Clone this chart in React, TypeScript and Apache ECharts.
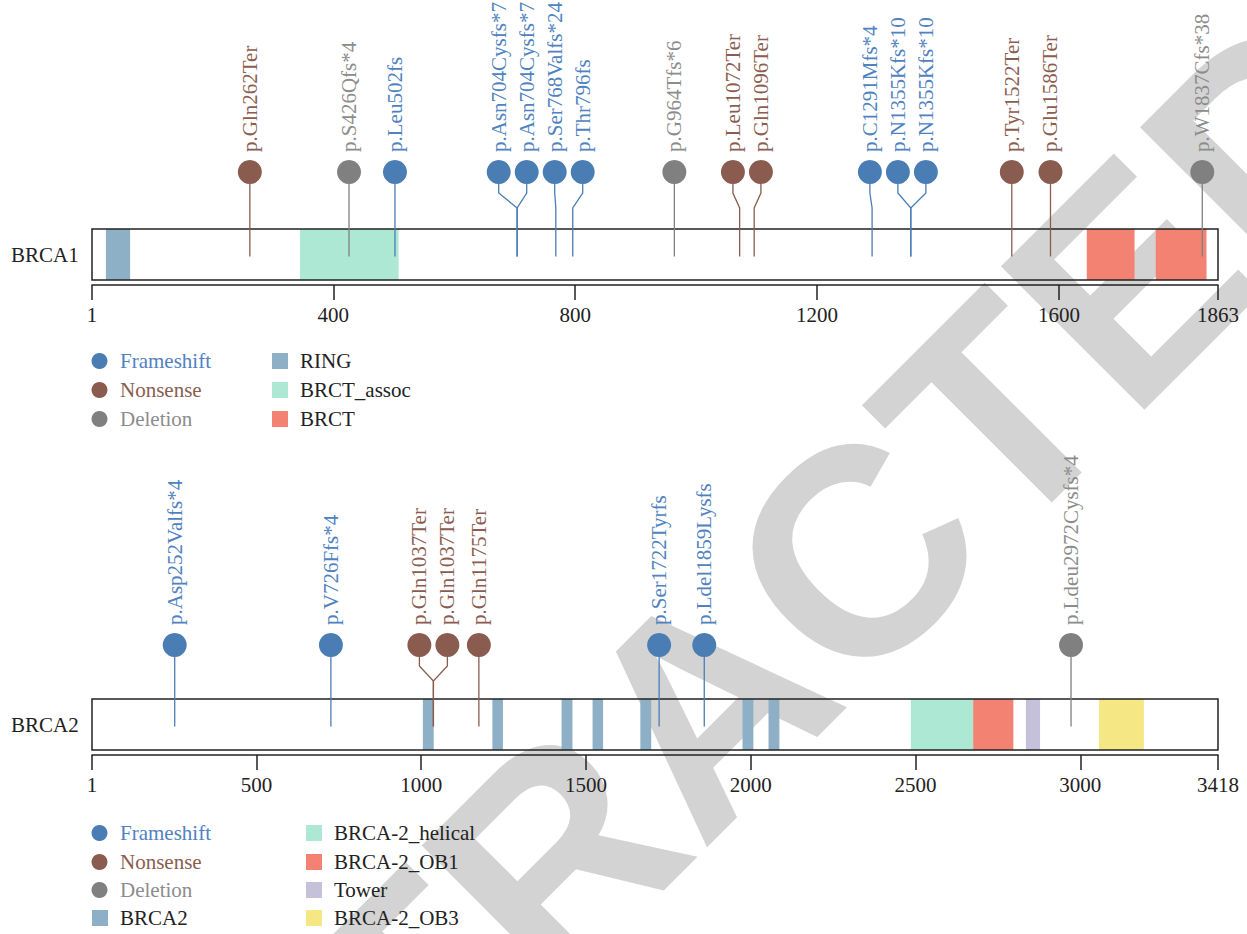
import React, { useEffect, useRef } from "react";
import * as echarts from "echarts";

const SERIF = "'Liberation Serif', 'DejaVu Serif', serif";
const FS = 21;
const INK = "#222222";

// mutation categories
const mutationTypes = ["Frameshift", "Nonsense", "Deletion"];
const mutationColors = ["#4a7db4", "#8a5c4f", "#808080"];
const mutationTextColors = ["#4f82bf", "#8b5d50", "#8c8c8c"];

// ---------- BRCA1 ----------
const brca1Length = 1863;
const brca1Ticks = [1, 400, 800, 1200, 1600, 1863];
const brca1MutLabels = [
  "p.Gln262Ter", "p.S426Qfs*4", "p.Leu502fs", "p.Asn704Cysfs*7", "p.Asn704Cysfs*7",
  "p.Ser768Valfs*24", "p.Thr796fs", "p.G964Tfs*6", "p.Leu1072Ter", "p.Gln1096Ter",
  "p.C1291Mfs*4", "p.N1355Kfs*10", "p.N1355Kfs*10", "p.Tyr1522Ter", "p.Glu1586Ter",
  "p.W1837Cfs*38",
];
const brca1MutPositions = [262, 426, 502, 704, 704, 768, 796, 964, 1072, 1096, 1291, 1355, 1355, 1522, 1586, 1837];
const brca1MutTypes = [1, 2, 0, 0, 0, 0, 0, 2, 1, 1, 0, 0, 0, 1, 1, 2];
const brca1DomainNames = ["RING", "BRCT_assoc", "BRCT"];
const brca1DomainColors = ["#8eb0c6", "#ade8d4", "#f48273"];
const brca1DomainStarts = [24, 345, 1646, 1760];
const brca1DomainEnds = [64, 508, 1725, 1844];
const brca1DomainKinds = [0, 1, 2, 2];

// ---------- BRCA2 ----------
const brca2Length = 3418;
const brca2Ticks = [1, 500, 1000, 1500, 2000, 2500, 3000, 3418];
const brca2MutLabels = [
  "p.Asp252Valfs*4", "p.V726Ffs*4", "p.Gln1037Ter", "p.Gln1037Ter", "p.Gln1175Ter",
  "p.Ser1722Tyrfs", "p.Ldel1859Lysfs", "p.Ldeu2972Cysfs*4",
];
const brca2MutPositions = [252, 726, 1037, 1037, 1175, 1722, 1859, 2972];
const brca2MutTypes = [0, 0, 1, 1, 1, 0, 0, 2];
const brca2DomainNames = ["BRCA2", "BRCA-2_helical", "BRCA-2_OB1", "Tower", "BRCA-2_OB3"];
const brca2DomainColors = ["#8eb0c6", "#ade8d4", "#f48273", "#c6c1da", "#f4e784"];
const brca2DomainStarts = [1005, 1216, 1426, 1520, 1665, 1975, 2054, 2486, 2675, 2835, 3057];
const brca2DomainEnds = [1038, 1248, 1459, 1552, 1698, 2008, 2087, 2675, 2797, 2878, 3193];
const brca2DomainKinds = [0, 0, 0, 0, 0, 0, 0, 1, 2, 3, 4];

// layout
const GRID_LEFT = 92;
const GRID_WIDTH = 1126;
const MIN_GAP = 28;
const R = 12;

function repel(xs: number[], gap: number): number[] {
  const order = xs.map((_, i) => i).sort((a, b) => xs[a] - xs[b]);
  let clusters = order.map((i) => ({ idx: [i], center: xs[i] }));
  let changed = true;
  while (changed) {
    changed = false;
    for (let k = 0; k < clusters.length - 1; k++) {
      const a = clusters[k];
      const b = clusters[k + 1];
      const aRight = a.center + ((a.idx.length - 1) * gap) / 2;
      const bLeft = b.center - ((b.idx.length - 1) * gap) / 2;
      if (bLeft - aRight < gap - 1e-6) {
        const n = a.idx.length + b.idx.length;
        const center = (a.center * a.idx.length + b.center * b.idx.length) / n;
        clusters.splice(k, 2, { idx: a.idx.concat(b.idx), center });
        changed = true;
        break;
      }
    }
  }
  const out: number[] = new Array(xs.length);
  clusters.forEach((c) =>
    c.idx.forEach((i, j) => {
      out[i] = c.center + (j - (c.idx.length - 1) / 2) * gap;
    })
  );
  return out;
}

function lollipopSeries(
  gridIndex: number,
  positions: number[],
  types: number[],
  labels: string[],
  circleOffset: number
) {
  return {
    type: "custom",
    xAxisIndex: gridIndex,
    yAxisIndex: gridIndex,
    z: 5,
    clip: false,
    data: positions.map((p, i) => [p, 0.5, types[i], i]),
    renderItem: (params: any, api: any) => {
      const i = params.dataIndex;
      const targets = positions.map((p) => api.coord([p, 0.5])[0]);
      const display = repel(targets, MIN_GAP);
      const top = api.coord([positions[i], 1])[1];
      const mid = api.coord([positions[i], 0.5])[1];
      const tx = targets[i];
      const dx = display[i];
      const cy = top - circleOffset;
      const color = mutationColors[types[i]];
      const children: any[] = [];
      if (Math.abs(dx - tx) < 0.5) {
        children.push({
          type: "line",
          shape: { x1: tx, y1: cy + R, x2: tx, y2: mid + 2 },
          style: { stroke: color, lineWidth: 1.3 },
        });
      } else {
        children.push({
          type: "polyline",
          shape: {
            points: [
              [dx, cy + R],
              [dx, cy + 21],
              [tx, cy + 36],
              [tx, mid + 2],
            ],
          },
          style: { stroke: color, lineWidth: 1.3, fill: "none" },
        });
      }
      children.push({
        type: "circle",
        shape: { cx: dx, cy, r: R },
        style: { fill: color },
      });
      children.push({
        type: "text",
        x: dx,
        y: cy - 20,
        rotation: Math.PI / 2,
        style: {
          text: labels[i],
          fill: mutationTextColors[types[i]],
          fontSize: FS,
          fontFamily: SERIF,
          align: "left",
          verticalAlign: "middle",
        },
      });
      return { type: "group", children };
    },
  };
}

function domainSeries(gridIndex: number, starts: number[], ends: number[], kinds: number[], colors: string[]) {
  return {
    type: "custom",
    xAxisIndex: gridIndex,
    yAxisIndex: gridIndex,
    z: 2,
    data: starts.map((s, i) => [s, ends[i], kinds[i]]),
    renderItem: (params: any, api: any) => {
      const p0 = api.coord([api.value(0), 1]);
      const p1 = api.coord([api.value(1), 0]);
      return {
        type: "rect",
        shape: { x: p0[0], y: p0[1], width: p1[0] - p0[0], height: p1[1] - p0[1] },
        style: { fill: colors[api.value(2)] },
      };
    },
  };
}

function boxSeries(gridIndex: number, length: number) {
  return {
    type: "custom",
    xAxisIndex: gridIndex,
    yAxisIndex: gridIndex,
    z: 3,
    data: [[1, length]],
    renderItem: (params: any, api: any) => {
      const p0 = api.coord([api.value(0), 1]);
      const p1 = api.coord([api.value(1), 0]);
      return {
        type: "rect",
        shape: { x: p0[0], y: p0[1], width: p1[0] - p0[0], height: p1[1] - p0[1] },
        style: { fill: "none", stroke: INK, lineWidth: 1.5 },
      };
    },
  };
}

function xAxis(gridIndex: number, length: number, ticks: number[]) {
  return {
    type: "value",
    gridIndex,
    min: 1,
    max: length,
    offset: 5,
    axisLine: { show: true, onZero: false, lineStyle: { color: INK, width: 1.5 } },
    axisTick: { show: true, customValues: ticks, length: 15, lineStyle: { color: INK, width: 1.5 } },
    axisLabel: {
      customValues: ticks,
      formatter: (v: number) => String(Math.round(v)),
      margin: 19,
      color: INK,
      fontSize: FS,
      fontFamily: SERIF,
      showMinLabel: true,
      showMaxLabel: true,
    },
    splitLine: { show: false },
  };
}

function yAxis(gridIndex: number) {
  return { type: "value", gridIndex, min: 0, max: 1, show: false };
}

function legendGraphics(
  items: { name: string; kind: "circle" | "square"; color: string; textColor: string }[],
  rows: number,
  rowYs: number[],
  colMarkerLeft: number[]
) {
  const els: any[] = [];
  items.forEach((it, k) => {
    const col = Math.floor(k / rows);
    const row = k % rows;
    const y = rowYs[row];
    const left = colMarkerLeft[col];
    if (it.kind === "circle") {
      els.push({ type: "circle", shape: { cx: left + 7.5, cy: y, r: 8 }, style: { fill: it.color } });
    } else {
      els.push({ type: "rect", shape: { x: left, y: y - 8, width: 16, height: 16 }, style: { fill: it.color } });
    }
    els.push({
      type: "text",
      x: left + 28,
      y,
      style: {
        text: it.name,
        fill: it.textColor,
        fontSize: FS,
        fontFamily: SERIF,
        align: "left",
        verticalAlign: "middle",
      },
    });
  });
  return els;
}

export default function App() {
  const ref = useRef<HTMLDivElement>(null);
  useEffect(() => {
    document.body.style.margin = "0";
    if (!ref.current) return;
    const chart = echarts.init(ref.current, undefined, { renderer: "svg" });

    const mutItems = mutationTypes.map((t, i) => ({
      name: t,
      kind: "circle" as const,
      color: mutationColors[i],
      textColor: mutationTextColors[i],
    }));
    const b1Items = [
      ...mutItems,
      ...brca1DomainNames.map((n, i) => ({ name: n, kind: "square" as const, color: brca1DomainColors[i], textColor: INK })),
    ];
    const b2Items = [
      ...mutItems,
      ...brca2DomainNames.map((n, i) => ({ name: n, kind: "square" as const, color: brca2DomainColors[i], textColor: INK })),
    ];

    const option: any = {
      animation: false,
      backgroundColor: "#ffffff",
      grid: [
        { left: GRID_LEFT, width: GRID_WIDTH, top: 229, height: 51 },
        { left: GRID_LEFT, width: GRID_WIDTH, top: 699, height: 51 },
      ],
      xAxis: [xAxis(0, brca1Length, brca1Ticks), xAxis(1, brca2Length, brca2Ticks)],
      yAxis: [yAxis(0), yAxis(1)],
      graphic: {
        elements: [
          {
            type: "text",
            x: 705,
            y: 705,
            rotation: Math.PI / 4,
            z: -10,
            silent: true,
            style: {
              text: "RETRACTED",
              fill: "#d3d3d3",
              fontSize: 295,
              fontWeight: "bold",
              fontFamily: "'Liberation Sans', Arial, sans-serif",
              align: "center",
              verticalAlign: "middle",
            },
          },
          {
            type: "text",
            x: 11,
            y: 255,
            style: { text: "BRCA1", fill: INK, fontSize: FS, fontFamily: SERIF, align: "left", verticalAlign: "middle" },
          },
          {
            type: "text",
            x: 11,
            y: 725,
            style: { text: "BRCA2", fill: INK, fontSize: FS, fontFamily: SERIF, align: "left", verticalAlign: "middle" },
          },
          ...legendGraphics(b1Items, 3, [361, 390, 419], [92, 272]),
          ...legendGraphics(b2Items, 4, [833, 862, 890, 918], [92, 306]),
        ],
      },
      series: [
        domainSeries(0, brca1DomainStarts, brca1DomainEnds, brca1DomainKinds, brca1DomainColors),
        boxSeries(0, brca1Length),
        lollipopSeries(0, brca1MutPositions, brca1MutTypes, brca1MutLabels, 57),
        domainSeries(1, brca2DomainStarts, brca2DomainEnds, brca2DomainKinds, brca2DomainColors),
        boxSeries(1, brca2Length),
        lollipopSeries(1, brca2MutPositions, brca2MutTypes, brca2MutLabels, 54),
      ],
    };
    chart.setOption(option);
    return () => chart.dispose();
  }, []);
  return <div ref={ref} style={{ width: 1247, height: 934 }} />;
}
